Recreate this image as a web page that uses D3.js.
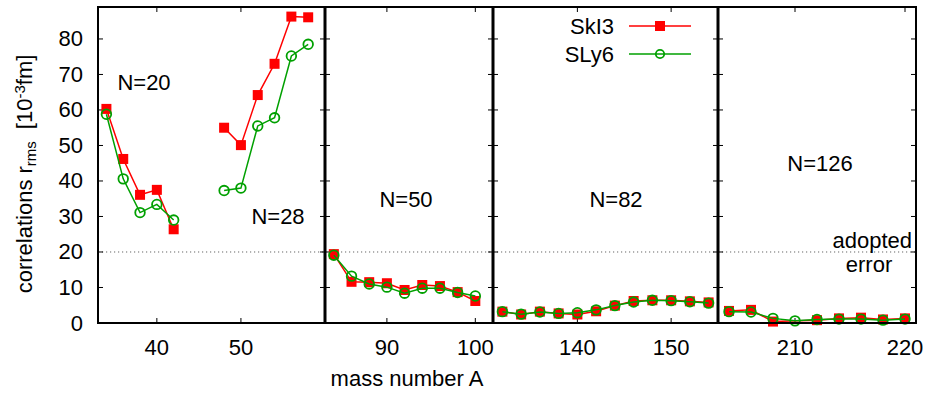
<!DOCTYPE html>
<html>
<head>
<meta charset="utf-8">
<script src="https://cdn.jsdelivr.net/npm/d3@7/dist/d3.min.js"></script>
<style>
  body { margin: 0; background: #fff; }
  svg { display: block; font-family: "Liberation Sans", Arial, Helvetica, sans-serif; }
</style>
</head>
<body>
<div id="chart"></div>
<script>
// mass numbers and rms correlations [10^-3 fm]
const massN20 = [34, 36, 38, 40, 42];
const skI3N20 = [60.3, 46.2, 36.1, 37.5, 26.4];
const sly6N20 = [58.8, 40.6, 31.1, 33.4, 29.0];

const massN28 = [48, 50, 52, 54, 56, 58];
const skI3N28 = [55.0, 50.1, 64.2, 73.0, 86.3, 86.1];
const sly6N28 = [37.3, 38.0, 55.5, 57.8, 75.2, 78.5];

const massN50 = [84, 86, 88, 90, 92, 94, 96, 98, 100];
const skI3N50 = [19.4, 11.6, 11.5, 11.2, 9.3, 10.7, 10.4, 8.7, 6.2];
const sly6N50 = [19.1, 13.2, 11.0, 10.1, 8.4, 9.8, 9.8, 8.6, 7.6];

const massN82 = [132, 134, 136, 138, 140, 142, 144, 146, 148, 150, 152, 154];
const skI3N82 = [3.2, 2.4, 3.2, 2.7, 2.4, 3.3, 4.9, 6.2, 6.4, 6.4, 6.1, 5.8];
const sly6N82 = [3.2, 2.5, 3.1, 2.7, 2.9, 3.7, 4.9, 5.9, 6.4, 6.3, 6.0, 5.6];

const massN126 = [204, 206, 208, 210, 212, 214, 216, 218, 220];
const skI3N126 = [3.4, 3.7, 0.4, null, 0.8, 1.3, 1.5, 1.0, 1.3];
const sly6N126 = [3.2, 3.1, 1.3, 0.6, 1.0, 1.1, 1.1, 0.8, 1.1];

const yTicks = [0, 10, 20, 30, 40, 50, 60, 70, 80];
const xTicksP1 = [40, 50];
const xTicksP2 = [90, 100];
const xTicksP3 = [140, 150];
const xTicksP4 = [210, 220];
const adoptedError = 20;

const width = 930, height = 393;
const plotTop = 7, plotBottom = 323;
const red = "#ff0000", green = "#00a000";
const fontSize = 22;

const y = d3.scaleLinear().domain([0, 89]).range([plotBottom, plotTop]);

const panels = [
  { x0: 98, x1: 325, domain: [33, 60], ticks: xTicksP1,
    groups: [[massN20, skI3N20, sly6N20], [massN28, skI3N28, sly6N28]] },
  { x0: 325, x1: 493, domain: [83, 102], ticks: xTicksP2,
    groups: [[massN50, skI3N50, sly6N50]] },
  { x0: 493, x1: 718, domain: [131, 155], ticks: xTicksP3,
    groups: [[massN82, skI3N82, sly6N82]] },
  { x0: 718, x1: 916, domain: [203, 221], ticks: xTicksP4,
    groups: [[massN126, skI3N126, sly6N126]] }
];

const svg = d3.select("#chart").append("svg")
  .attr("width", width)
  .attr("height", height);

svg.append("rect").attr("width", width).attr("height", height).attr("fill", "#fff");

panels.forEach((p, i) => {
  const x = d3.scaleLinear().domain(p.domain).range([p.x0, p.x1]);
  const g = svg.append("g");

  // adopted error line
  g.append("line")
    .attr("x1", p.x0).attr("x2", p.x1)
    .attr("y1", y(adoptedError)).attr("y2", y(adoptedError))
    .attr("stroke", "#666").attr("stroke-width", 1)
    .attr("stroke-dasharray", "1.2,2.8");

  // y ticks inward on both sides
  yTicks.forEach(t => {
    if (t === 0) return;
    g.append("line").attr("x1", p.x0).attr("x2", p.x0 + 5)
      .attr("y1", y(t)).attr("y2", y(t)).attr("stroke", "#000");
    g.append("line").attr("x1", p.x1 - 5).attr("x2", p.x1)
      .attr("y1", y(t)).attr("y2", y(t)).attr("stroke", "#000");
  });

  // x ticks top and bottom
  p.ticks.forEach(t => {
    g.append("line").attr("x1", x(t)).attr("x2", x(t))
      .attr("y1", plotBottom).attr("y2", plotBottom - 5).attr("stroke", "#000");
    g.append("line").attr("x1", x(t)).attr("x2", x(t))
      .attr("y1", plotTop).attr("y2", plotTop + 5).attr("stroke", "#000");
    g.append("text")
      .attr("x", x(t)).attr("y", 355)
      .attr("text-anchor", "middle")
      .attr("font-size", fontSize)
      .text(t);
  });

  const clip = "clip" + i;
  svg.append("clipPath").attr("id", clip)
    .append("rect").attr("x", p.x0).attr("y", plotTop)
    .attr("width", p.x1 - p.x0).attr("height", plotBottom - plotTop);

  const line = d3.line().x(d => x(d[0])).y(d => y(d[1]));

  p.groups.forEach(([mass, sk, sl]) => {
    const skPts = mass.map((m, j) => [m, sk[j]]).filter(d => d[1] != null);
    const slPts = mass.map((m, j) => [m, sl[j]]).filter(d => d[1] != null);

    g.append("path").datum(skPts)
      .attr("clip-path", `url(#${clip})`)
      .attr("d", line).attr("fill", "none")
      .attr("stroke", red).attr("stroke-width", 1.5);
    g.selectAll(null).data(skPts).enter().append("rect")
      .attr("x", d => x(d[0]) - 5).attr("y", d => y(d[1]) - 5)
      .attr("width", 10).attr("height", 10)
      .attr("fill", red);

    g.append("path").datum(slPts)
      .attr("clip-path", `url(#${clip})`)
      .attr("d", line).attr("fill", "none")
      .attr("stroke", green).attr("stroke-width", 1.5);
    g.selectAll(null).data(slPts).enter().append("circle")
      .attr("cx", d => x(d[0])).attr("cy", d => y(d[1]))
      .attr("r", 4.8)
      .attr("fill", "none")
      .attr("stroke", green).attr("stroke-width", 1.8);
  });

  g.append("rect")
    .attr("x", p.x0).attr("y", plotTop)
    .attr("width", p.x1 - p.x0).attr("height", plotBottom - plotTop)
    .attr("fill", "none").attr("stroke", "#000").attr("stroke-width", 2);
});

// thicker separators between panels
panels.slice(1).forEach(p => {
  svg.append("line").attr("x1", p.x0).attr("x2", p.x0)
    .attr("y1", plotTop).attr("y2", plotBottom)
    .attr("stroke", "#000").attr("stroke-width", 3);
});

// y axis labels
yTicks.forEach(t => {
  svg.append("text")
    .attr("x", 83).attr("y", y(t) + 7.5)
    .attr("text-anchor", "end")
    .attr("font-size", fontSize)
    .text(t);
});

const ylab = svg.append("text")
  .attr("transform", "translate(32,174) rotate(-90)")
  .attr("text-anchor", "middle")
  .attr("font-size", fontSize);
ylab.append("tspan").text("correlations r");
ylab.append("tspan").attr("baseline-shift", "-25%").attr("font-size", 15).text("rms");
ylab.append("tspan").attr("dx", 12).text("[10");
ylab.append("tspan").attr("baseline-shift", "45%").attr("font-size", 15).text("-3");
ylab.append("tspan").text("fm]");

svg.append("text")
  .attr("x", 407).attr("y", 386)
  .attr("text-anchor", "middle")
  .attr("font-size", fontSize)
  .text("mass number A");

// shell labels
const shellLabels = [
  ["N=20", 144, 90], ["N=28", 278, 224], ["N=50", 406, 207],
  ["N=82", 616, 207], ["N=126", 820, 171]
];
shellLabels.forEach(([txt, lx, ly]) => {
  svg.append("text").attr("x", lx).attr("y", ly)
    .attr("text-anchor", "middle").attr("font-size", fontSize).text(txt);
});

svg.append("text").attr("x", 912).attr("y", 248)
  .attr("text-anchor", "end").attr("font-size", fontSize).text("adopted");
svg.append("text").attr("x", 869).attr("y", 272)
  .attr("text-anchor", "middle").attr("font-size", fontSize).text("error");

// legend
const legend = svg.append("g");
[["SkI3", red, 26], ["SLy6", green, 54]].forEach(([name, col, ly], k) => {
  legend.append("text").attr("x", 614).attr("y", ly + 7.5)
    .attr("text-anchor", "end").attr("font-size", fontSize).text(name);
  legend.append("line").attr("x1", 629).attr("x2", 691)
    .attr("y1", ly).attr("y2", ly)
    .attr("stroke", col).attr("stroke-width", 1.5);
  if (k === 0) {
    legend.append("rect").attr("x", 655).attr("y", ly - 5)
      .attr("width", 10).attr("height", 10).attr("fill", col);
  } else {
    legend.append("circle").attr("cx", 660).attr("cy", ly).attr("r", 4.2)
      .attr("fill", "none").attr("stroke", col).attr("stroke-width", 1.8);
  }
});
</script>
</body>
</html>
